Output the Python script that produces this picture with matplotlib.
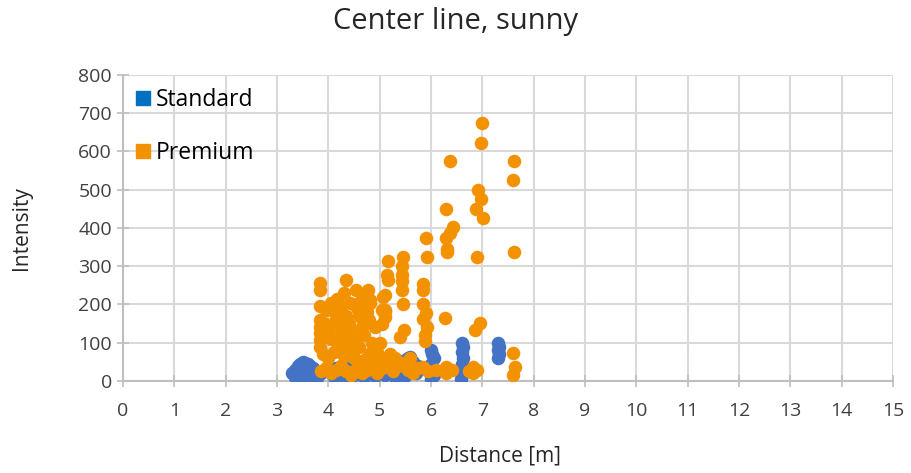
import matplotlib
matplotlib.use("Agg")
import matplotlib.pyplot as plt
from matplotlib.lines import Line2D

plt.rcParams['font.family'] = ['Open Sans', 'DejaVu Sans']

# Standard series
std_x = [3.30, 3.35, 3.40, 3.45, 3.50, 3.55, 3.60, 3.65, 3.70, 3.35, 3.45, 3.55, 3.65, 3.75,
         3.40, 3.50, 3.60, 3.70, 3.80, 3.38, 3.48, 3.58, 3.68, 3.78, 3.85,
         3.95, 4.05, 4.15, 4.25, 4.35, 4.45, 4.55, 4.65, 4.75, 4.85, 4.95, 5.05, 5.15, 5.25,
         5.35, 5.45, 5.55, 5.65, 5.75, 4.10, 4.30, 4.50, 4.70, 4.90, 5.10, 5.30, 5.50, 5.70,
         5.60, 5.50,
         6.00, 6.02, 6.05, 6.00, 6.03, 6.05, 6.00,
         6.60, 6.62, 6.60, 6.63, 6.60, 6.62, 6.60, 6.58,
         7.30, 7.32, 7.30, 7.32, 7.30]
std_y = [20, 30, 40, 45, 50, 48, 45, 40, 35, 10, 15, 12, 18, 10,
         25, 35, 30, 22, 15, 5, 8, 5, 6, 8, 20,
         30, 25, 35, 40, 20, 45, 30, 25, 40, 35, 50, 30, 55, 45,
         20, 35, 60, 50, 40, 10, 12, 15, 10, 12, 15, 10, 12, 20,
         63, 55,
         80, 70, 60, 45, 30, 15, 5,
         100, 90, 75, 60, 45, 30, 15, 5,
         100, 90, 80, 70, 60]

# Premium series
prem_x = [7.00, 6.98, 6.37, 7.62, 7.59, 6.92, 6.97, 6.88, 7.01, 6.29, 6.43, 6.37, 6.29, 5.90,
          6.32, 7.62, 6.31, 5.92, 6.89, 5.46, 5.17, 5.43, 5.43, 5.43, 5.43, 5.15, 5.17, 5.84,
          5.84, 5.45, 5.84, 5.90, 5.84, 5.92, 5.88, 5.88, 5.47, 5.39, 6.27, 6.86, 6.95, 7.60,
          7.64, 7.59, 6.30, 6.30, 6.82, 6.82, 5.85, 5.46, 5.10, 5.10, 5.10,
          3.83, 3.83, 4.34, 3.83, 4.17, 4.19, 4.54, 4.78, 4.42, 4.62, 4.81, 5.04, 5.07, 4.81,
          3.83, 3.83, 3.83, 3.83, 3.83,
          3.95, 4.00, 4.05, 4.10, 4.15, 4.20, 4.25, 4.30, 4.35, 4.40, 4.45, 4.50, 4.55, 4.60,
          4.65, 4.70, 4.75, 4.80, 4.85, 4.90, 4.95, 5.00, 5.05, 5.10, 3.90, 4.00, 4.10, 4.20,
          4.30, 4.40, 4.50, 4.60, 4.70, 4.80, 4.25, 4.05, 4.65, 4.30, 3.95,
          3.85, 3.95, 4.05, 4.15, 4.25, 4.35, 4.45, 4.55, 4.65, 4.75, 4.85, 4.95, 5.05, 5.15,
          5.25, 5.35, 5.55, 5.65, 5.75, 5.95, 6.10, 6.25, 6.40, 6.75, 6.90, 5.20, 5.00, 4.90,
          5.30, 5.60]
prem_y = [674, 622, 576, 576, 525, 499, 475, 449, 425, 450, 402, 388, 375, 375,
          344, 338, 338, 325, 325, 325, 315, 301, 278, 262, 238, 277, 264, 254,
          238, 201, 201, 178, 162, 142, 120, 105, 134, 114, 164, 133, 151, 72,
          37, 16, 37, 20, 37, 20, 37, 47, 225, 186, 168,
          255, 238, 264, 196, 214, 202, 238, 238, 203, 207, 203, 186, 220, 212,
          160, 142, 125, 107, 90,
          150, 130, 110, 180, 160, 140, 120, 100, 170, 150, 130, 110, 190, 170,
          140, 120, 180, 160, 100, 140, 75, 100, 150, 180, 70, 60, 75, 90,
          65, 80, 60, 90, 55, 70, 195, 205, 225, 230, 185,
          25, 35, 20, 30, 40, 25, 15, 35, 20, 30, 45, 20, 35, 55,
          25, 40, 30, 20, 35, 25, 30, 25, 30, 25, 30, 70, 60, 55,
          60, 60]

blue = '#4472C4'
orange = '#F39200'
grid_c = '#D9D9D9'
txt = '#262626'

fig = plt.figure(figsize=(9.12, 4.73), dpi=100)
ax = fig.add_axes([0.135, 0.1945, 0.844, 0.647])

ax.scatter(std_x, std_y, s=95, color=blue, linewidths=0, zorder=3)
ax.scatter(prem_x, prem_y, s=95, color=orange, linewidths=0, zorder=4)

ax.set_xlim(0, 15)
ax.set_ylim(0, 800)
ax.set_xticks(range(0, 16))
ax.set_yticks(range(0, 801, 100))
ax.grid(True, color=grid_c, linewidth=1.5, zorder=0)
ax.set_axisbelow(True)
for s in ['top', 'right']:
    ax.spines[s].set_visible(False)
for s in ['left', 'bottom']:
    ax.spines[s].set_color('#BFBFBF')
    ax.spines[s].set_linewidth(1.5)
ax.tick_params(axis='both', direction='inout', length=8, width=1.2, color='#BFBFBF',
               labelsize=14, labelcolor='#404040')
ax.tick_params(axis='x', pad=11)
ax.tick_params(axis='y', pad=4)

fig.suptitle('Center line, sunny', fontsize=21, color=txt, x=0.5, y=0.985, va='top')
ax.set_xlabel('Distance [m]', fontsize=15, color=txt)
ax.set_ylabel('Intensity', fontsize=15, color=txt)
ax.xaxis.set_label_coords(0.49, -0.21)
ax.yaxis.set_label_coords(-0.118, 0.5)

handles = [Line2D([], [], marker='s', linestyle='none', markersize=10, color='#0070C0'),
           Line2D([], [], marker='s', linestyle='none', markersize=10, color=orange)]
ax.legend(handles, ['Standard', 'Premium'], loc='upper left', bbox_to_anchor=(-0.008, 1.01),
          frameon=False, fontsize=16.5, handletextpad=0.1, labelspacing=1.25,
          handlelength=0.9, borderaxespad=0.3)

fig.savefig('out.png', dpi=100)
